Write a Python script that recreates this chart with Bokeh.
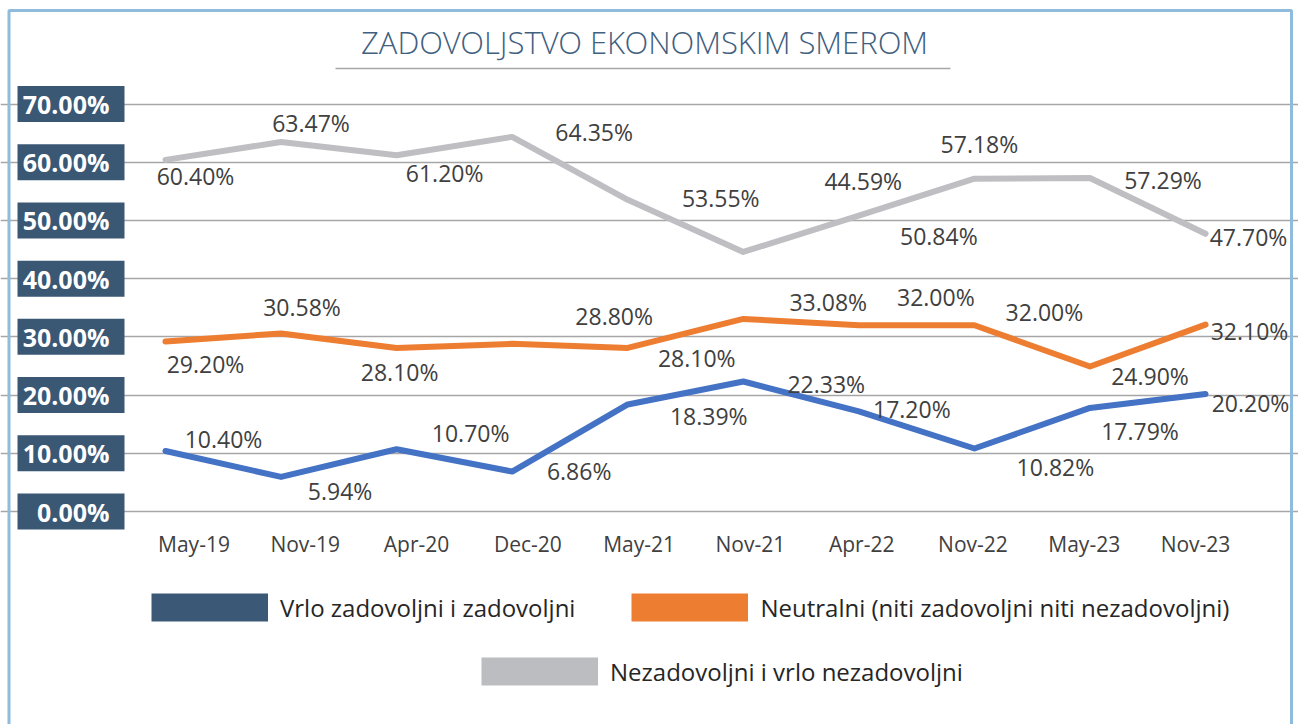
from bokeh.plotting import figure
from bokeh.models import (Range1d, LinearAxis, FixedTicker, Grid, ColumnDataSource,
                          LabelSet, Label, Legend, LegendItem, PrintfTickFormatter)
from bokeh.core.properties import value
from bokeh.embed import file_html
from bokeh.resources import INLINE

# ---------------- data ----------------
months = ["May-19", "Nov-19", "Apr-20", "Dec-20", "May-21",
          "Nov-21", "Apr-22", "Nov-22", "May-23", "Nov-23"]
satisfied = [10.40, 5.94, 10.70, 6.86, 18.39, 22.33, 17.20, 10.82, 17.79, 20.20]
neutral = [29.20, 30.58, 28.10, 28.80, 28.10, 33.08, 32.00, 32.00, 24.90, 32.10]
dissatisfied = [60.40, 63.47, 61.20, 64.35, 53.55, 44.59, 50.84, 57.18, 57.29, 47.70]
y_ticks = [0, 10, 20, 30, 40, 50, 60, 70]
series_names = ["Vrlo zadovoljni i zadovoljni",
                "Neutralni (niti zadovoljni niti nezadovoljni)",
                "Nezadovoljni i vrlo nezadovoljni"]
title_text = "ZADOVOLJSTVO EKONOMSKIM SMEROM"

# ---------------- label placement (pixels, layout only) ----------------
sat_dx = [58, 59, 74, 67, 81, 83, 53, 81, 50, 45]
sat_dy = [12, -14, 16, 1, -12, -2, 2, -18, -23, -9]
neu_dx = [40, 21, 3, 102, 69, 85, 77, 70, 60, 44]
neu_dy = [-22, 26, -24, 28, -10, 17, 28, 13, -9, -6]
dis_dx = [30, 30, 48, 82, 93, 120, 80, 5, 73, 43]
dis_dy = [-16, 19, -18, 5, 2, 71, -20, 35, -2, -3]

# ---------------- page geometry ----------------
W, H = 1298, 724
X_PX = 115.56      # px per category (lines)
X_FIRST = 165.0    # page x of first category (lines)
XL_PX = 111.28     # px per category (axis labels)
XL_FIRST = 193.5   # page x of first axis label
Y_PX = 5.8214      # px per percent point
Y_ZERO = 511.0     # page y of 0 %


def px2x(px):
    return (px - X_FIRST) / X_PX


def px2xl(px):
    return (px - XL_FIRST) / XL_PX


def py2y(py):
    return (Y_ZERO - py) / Y_PX


p = figure(width=W, height=H,
           x_range=Range1d(px2x(0), px2x(W)),
           y_range=Range1d(py2y(H), py2y(0)),
           x_axis_type=None, y_axis_type=None,
           output_backend="svg", toolbar_location=None,
           min_border=0, outline_line_color=None,
           background_fill_color="white", border_fill_color="white")
p.extra_x_ranges = {"labels": Range1d(px2xl(0), px2xl(W))}

# grid
yticker = FixedTicker(ticks=y_ticks)
grid = Grid(dimension=1, ticker=yticker, bounds=(px2x(135), px2x(1253)),
            grid_line_color="#a6a6a6", grid_line_width=1.5)
p.add_layout(grid, "center")

# y label boxes
box_half = 18 / Y_PX
p.quad(left=px2x(17), right=px2x(124),
       bottom=[t - box_half for t in y_ticks], top=[t + box_half for t in y_ticks],
       fill_color="#3a5774", line_color=None)

# axes
yaxis = LinearAxis(ticker=yticker, formatter=PrintfTickFormatter(format="%.2f%%"),
                   fixed_location=px2x(124),
                   axis_line_color=None, major_tick_line_color=None,
                   minor_tick_line_color=None, major_label_standoff=9,
                   major_label_text_font="Open Sans",
                   major_label_text_font_size="25px",
                   major_label_text_font_style="bold",
                   major_label_text_color="white")
p.add_layout(yaxis, "left")

xaxis = LinearAxis(x_range_name="labels",
                   ticker=FixedTicker(ticks=list(range(len(months)))),
                   major_label_overrides={i: m for i, m in enumerate(months)},
                   fixed_location=0,
                   axis_line_color=None, major_tick_line_color=None,
                   minor_tick_line_color=None, major_label_standoff=12,
                   major_label_text_font="Open Sans",
                   major_label_text_font_size="21px",
                   major_label_text_color="#404040")
p.add_layout(xaxis, "below")

# lines
xs = list(range(len(months)))
for vals, color in [(dissatisfied, "#bfbfc3"), (neutral, "#ed7d31"), (satisfied, "#4472c4")]:
    p.line(xs, vals, line_color=color, line_width=6, line_join="round", line_cap="round")

# data labels
for vals, ddx, ddy in [(dissatisfied, dis_dx, dis_dy), (neutral, neu_dx, neu_dy),
                       (satisfied, sat_dx, sat_dy)]:
    src = ColumnDataSource(dict(x=xs, y=vals, text=["%.2f%%" % v for v in vals],
                                dx=ddx, dy=ddy))
    p.add_layout(LabelSet(x="x", y="y", text="text", x_offset="dx", y_offset="dy",
                          source=src, text_align="center", text_baseline="middle",
                          text_font=value("Open Sans"), text_font_size=value("23px"),
                          text_color="#404040"))

# title + underline
p.add_layout(Label(x=px2x(644), y=py2y(41), text=title_text,
                   text_align="center", text_baseline="middle",
                   text_font="Open Sans Light", text_font_size="31px",
                   text_color="#3f607f"))
p.segment(x0=[px2x(335)], y0=[py2y(68)], x1=[px2x(950)], y1=[py2y(68)],
          line_color="#a6a6a6", line_width=1.5)

# outer border
p.quad(left=[px2x(8.5)], right=[px2x(1291)], top=[py2y(10)], bottom=[py2y(780)],
       fill_color=None, line_color="#8fbbdd", line_width=3)

# legend (swatch renderers that draw nothing in the plot area)
nan = float("nan")
swatch_colors = ["#3b5877", "#ed7d31", "#bcbdc1"]
rs = [p.line(x=[nan], y=[nan], line_color=c, line_width=28, line_cap="butt")
      for c in swatch_colors]

common = dict(orientation="horizontal", glyph_width=117, glyph_height=34,
              label_height=34, label_standoff=12, spacing=56, padding=0, margin=0,
              border_line_color=None, background_fill_alpha=0,
              label_text_font="Open Sans", label_text_font_size="24px",
              label_text_color="#262626", label_text_baseline="middle")
leg1 = Legend(items=[LegendItem(label=series_names[0], renderers=[rs[0]]),
                     LegendItem(label=series_names[1], renderers=[rs[1]])],
              location=(151, 100), **common)
leg2 = Legend(items=[LegendItem(label=series_names[2], renderers=[rs[2]])],
              location=(481, 36), **common)
p.add_layout(leg1)
p.add_layout(leg2)

open("out.html", "w").write(file_html(p, INLINE))
